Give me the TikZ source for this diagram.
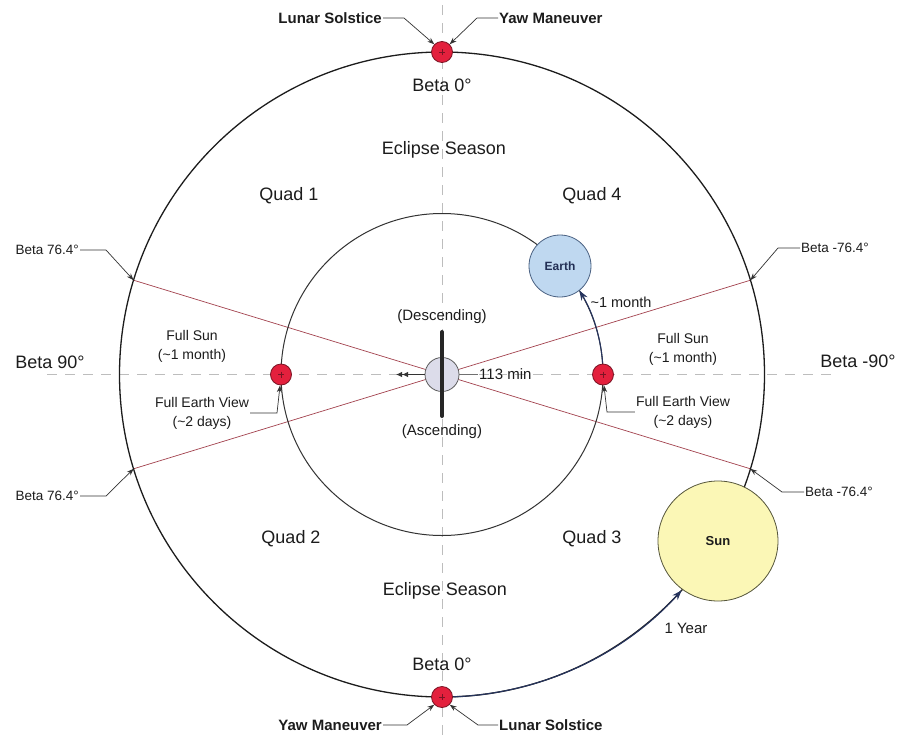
\documentclass[tikz,border=0pt]{standalone}
\usepackage{fontspec}
\setmainfont{Liberation Sans}
\usetikzlibrary{arrows.meta,calc}
\definecolor{textc}{HTML}{1C1C1C}
\definecolor{leadc}{HTML}{333333}
\definecolor{dashc}{HTML}{BDBDBD}
\definecolor{redline}{HTML}{A3424E}
\definecolor{dotred}{HTML}{E3203D}
\definecolor{dotedge}{HTML}{7A1424}
\definecolor{navy}{HTML}{26345E}
\definecolor{earthfill}{HTML}{BFD8F0}
\definecolor{earthedge}{HTML}{4A6182}
\definecolor{sunfill}{HTML}{FBF7B6}
\definecolor{sunedge}{HTML}{55553A}
\definecolor{cfill}{HTML}{DCDCEA}
\begin{document}
\begin{tikzpicture}[x=1pt,y=-1pt,
  txt/.style={text=textc, inner sep=1pt},
  big/.style={txt, font=\fontsize{18}{21}\selectfont},
  med/.style={txt, font=\fontsize{14}{19}\selectfont, align=center},
  mid/.style={txt, font=\fontsize{15}{18}\selectfont},
  small/.style={txt, font=\fontsize{13.5}{15}\selectfont},
  boldlab/.style={txt, font=\bfseries\fontsize{15}{17}\selectfont},
  leader/.style={draw=leadc, line width=0.7pt, -{Stealth[length=7pt,width=5pt]}},
  navyarr/.style={draw=navy, line width=1.1pt, -{Stealth[length=10pt,width=7pt]}},
  dashline/.style={draw=dashc, line width=0.8pt, dash pattern=on 10pt off 8pt},
  reddot/.style={circle, minimum size=21pt, inner sep=0pt, fill=dotred, draw=dotedge, line width=0.8pt,
    path picture={\draw[dotedge, line width=0.5pt]
      ($(path picture bounding box.center)+(-3,0)$) -- ++(6,0)
      ($(path picture bounding box.center)+(0,-3)$) -- ++(0,6);}}
]
\useasboundingbox[fill=white] (0,0) rectangle (900,739);
\coordinate (C) at (442,374.5);
% dashed axes
\coordinate (hl) at (47,374.5);
\coordinate (hr) at (833,374.5);
\coordinate (vt) at (442,5);
\coordinate (vb) at (442,739);
\draw[dashline] (hl) -- (hr);
\draw[dashline] (vt) -- (vb);
% beta 76.4 points on outer circle
\coordinate (pTL) at ($(C)+(197:322.5)$);
\coordinate (pBL) at ($(C)+(163:322.5)$);
\coordinate (pTR) at ($(C)+(-17:322.5)$);
\coordinate (pBR) at ($(C)+(17:322.5)$);
\draw[redline, line width=0.7pt] (pTL) -- (pBR);
\draw[redline, line width=0.7pt] (pBL) -- (pTR);
% circles
\draw[textc, line width=1.3pt] (C) circle[radius=322.5];
\draw[leadc, line width=1pt] (C) circle[radius=161];
% arrows along orbits
\coordinate (yS) at ($(C)+(88:322.5)$);
\coordinate (mS) at ($(C)+(-4:161)$);
\draw[navyarr] (yS) arc[start angle=88, end angle=42, radius=322.5];
\draw[navyarr] (mS) arc[start angle=-4, end angle=-31.5, radius=161];
% center body
\node[circle, minimum size=34pt, inner sep=0pt, fill=cfill, draw=leadc!80, line width=0.8pt] (sc) at (C) {};
\coordinate (barT) at (442,332);
\coordinate (barB) at (442,416);
\draw[black!85, line width=4pt, line cap=round] (barT) -- (barB);
\coordinate (tip) at (396,374.5);
\draw[leadc, line width=1pt, -{Latex[length=6pt,width=5.5pt] Latex[length=6pt,width=5.5pt]}] (sc.west) -- (tip);
\node[mid, anchor=west] (min) at (478,374.5) {113 min};
\draw[leadc!70, line width=0.7pt] (sc.east) -- (min.west);
% red dots
\node[reddot] (dT) at (442,52) {};
\node[reddot] (dB) at (442,697) {};
\node[reddot] (dL) at (281,374.5) {};
\node[reddot] (dR) at (603,374.5) {};
% Earth and Sun
\node[circle, minimum size=62pt, inner sep=0pt, fill=earthfill, draw=earthedge, line width=0.8pt,
  font=\bfseries\fontsize{12}{14}\selectfont, text=navy!90!black] (earth) at (560,266) {Earth};
\node[circle, minimum size=120pt, inner sep=0pt, fill=sunfill, draw=sunedge, line width=0.8pt,
  font=\bfseries\fontsize{13}{15}\selectfont, text=textc] (sun) at (718,541) {Sun};
% top / bottom labels
\node[boldlab, anchor=east] (lsT) at (383,18) {Lunar Solstice};
\node[boldlab, anchor=west] (ymT) at (498,18) {Yaw Maneuver};
\node[boldlab, anchor=east] (ymB) at (383,725) {Yaw Maneuver};
\node[boldlab, anchor=west] (lsB) at (498,725) {Lunar Solstice};
\draw[leader] (lsT.east) -- (404,18) -- (dT.135);
\draw[leader] (ymT.west) -- (477,18) -- (dT.45);
\draw[leader] (ymB.east) -- (407,725) -- (dB.225);
\draw[leader] (lsB.west) -- (478,725) -- (dB.315);
\node[big] (b0T) at (442,85) {Beta 0°};
\node[big] (b0B) at (442,664) {Beta 0°};
\node[big] (esT) at (444,150) {Eclipse Season};
\node[big] (esB) at (445,591) {Eclipse Season};
\node[big] (q1) at (289,196) {Quad 1};
\node[big] (q4) at (592,196) {Quad 4};
\node[big] (q2) at (291,539) {Quad 2};
\node[big] (q3) at (592,539) {Quad 3};
\node[big] (b90) at (50,362) {Beta 90°};
\node[big] (bm90) at (858,361) {Beta -90°};
% beta 76.4 labels
\node[small, anchor=east] (bTL) at (80,250) {Beta 76.4°};
\node[small, anchor=east] (bBL) at (80,496) {Beta 76.4°};
\node[small, anchor=west] (bTR) at (800,248) {Beta -76.4°};
\node[small, anchor=west] (bBR) at (804,492) {Beta -76.4°};
\draw[leader] (bTL.east) -- (106,250) -- (pTL);
\draw[leader] (bBL.east) -- (106,496) -- (pBL);
\draw[leader] (bTR.west) -- (778,248) -- (pTR);
\draw[leader] (bBR.west) -- (782,492) -- (pBR);
% full sun / full earth view
\node[med] (fsL) at (192,346) {Full Sun\\(\textasciitilde1 month)};
\node[med] (fsR) at (683,349) {Full Sun\\(\textasciitilde1 month)};
\node[med] (feL) at (202,413) {Full Earth View\\(\textasciitilde2 days)};
\node[med] (feR) at (683,412) {Full Earth View\\(\textasciitilde2 days)};
\draw[leader] (feL.east) -- (277,413) -- (dL.265);
\draw[leader] (feR.west) -- (607,412) -- (dR.275);
% other texts
\node[mid] (desc) at (442,317) {(Descending)};
\node[mid] (asc) at (442,432) {(Ascending)};
\node[txt, font=\fontsize{14.5}{16}\selectfont] (mon) at (621,302) {\textasciitilde1 month};
\node[mid] (yr) at (686,628) {1 Year};
\end{tikzpicture}
\end{document}
